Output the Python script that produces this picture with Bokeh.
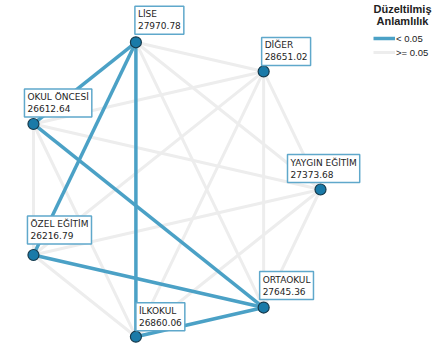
import numpy as np
from bokeh.plotting import figure
from bokeh.models import Range1d, Label, Legend, LegendItem, ColumnDataSource
from bokeh.core.properties import value
from bokeh.embed import file_html
from bokeh.resources import INLINE

# ---- data ----
groups = ["YAYGIN EĞİTİM", "ORTAOKUL", "İLKOKUL", "ÖZEL EĞİTİM", "OKUL ÖNCESİ", "LİSE", "DİĞER"]
mean_ranks = [27373.68, 27645.36, 26860.06, 26216.79, 26612.64, 27970.78, 28651.02]
significant_pairs = [
    ("LİSE", "OKUL ÖNCESİ"),
    ("LİSE", "ÖZEL EĞİTİM"),
    ("LİSE", "İLKOKUL"),
    ("OKUL ÖNCESİ", "ORTAOKUL"),
    ("ÖZEL EĞİTİM", "ORTAOKUL"),
    ("İLKOKUL", "ORTAOKUL"),
]
legend_title = "Düzeltilmiş\nAnlamlılık"
legend_labels = ["< 0.05", ">= 0.05"]

# ---- layout (nodes on a circle, heptagon) ----
n = len(groups)
theta = 2 * np.pi * np.arange(n) / n
nx = np.cos(theta)
ny = -np.sin(theta)
pos = {g: (nx[i], ny[i]) for i, g in enumerate(groups)}

# label box offsets (screen px, from node) : (dx right, dy up)
label_off = {
    "YAYGIN EĞİTİM": (-33, 7),
    "ORTAOKUL": (-4, 8),
    "İLKOKUL": (0, 6),
    "ÖZEL EĞİTİM": (-6, 11),
    "OKUL ÖNCESİ": (-9, 7),
    "LİSE": (-1, 8),
    "DİĞER": (-2, 6),
}

W, H = 437, 347
R = 151.0
cx, cy = 169, 189  # circle centre in canvas px

p = figure(width=W, height=H, output_backend="svg", toolbar_location=None,
           x_range=Range1d(-cx / R, (W - cx) / R),
           y_range=Range1d(-(H - cy) / R, cy / R),
           min_border=0)
p.axis.visible = False
p.grid.visible = False
p.outline_line_color = None
p.background_fill_color = "white"

sig = set(frozenset(s) for s in significant_pairs)
gx, gy, bx, by = [], [], [], []
for i in range(n):
    for j in range(i + 1, n):
        a, b = groups[i], groups[j]
        xs = [pos[a][0], pos[b][0]]
        ys = [pos[a][1], pos[b][1]]
        if frozenset((a, b)) in sig:
            bx.append(xs); by.append(ys)
        else:
            gx.append(xs); gy.append(ys)

gray_r = p.multi_line(gx, gy, line_color="#ededed", line_width=3)
blue_r = p.multi_line(bx, by, line_color="#4ba1c6", line_width=3.5)

p.scatter(nx, ny, size=11, fill_color="#1a7aa8", line_color="#173a4c", line_width=1.2)

src = ColumnDataSource(dict(
    x=nx, y=ny,
    t=[f"{g}\n{m:.2f}" for g, m in zip(groups, mean_ranks)],
    xo=[label_off[g][0] for g in groups],
    yo=[-label_off[g][1] for g in groups],
))
p.text(x="x", y="y", text="t", x_offset="xo", y_offset="yo", source=src,
       text_font=value("DejaVu Sans"), text_font_size="9px", text_color="#1e1e1e",
       text_align="left", text_baseline="bottom", text_line_height=1.2,
       background_fill_color="white", border_line_color="#5fa8cb", border_line_width=1.5,
       padding=3)

# legend
legend = Legend(items=[LegendItem(label=legend_labels[0], renderers=[blue_r]),
                       LegendItem(label=legend_labels[1], renderers=[gray_r])],
                location=(373, H - 58), orientation="vertical",
                glyph_width=22, glyph_height=12, label_height=12, spacing=2,
                label_standoff=1, padding=0, margin=0, border_line_color=None,
                background_fill_alpha=0,
                label_text_font="Liberation Sans", label_text_font_size="9.5px",
                label_text_color="#222222")
p.add_layout(legend, "center")

for k, line in enumerate(legend_title.split("\n")):
    p.add_layout(Label(x=402, y=H - 2 - k * 12, x_units="screen", y_units="screen",
                       text=line, text_font="Liberation Sans", text_font_style="bold",
                       text_font_size="11px", text_align="center", text_baseline="top",
                       text_color="#222222"))

open("out.html", "w").write(file_html(p, INLINE))
